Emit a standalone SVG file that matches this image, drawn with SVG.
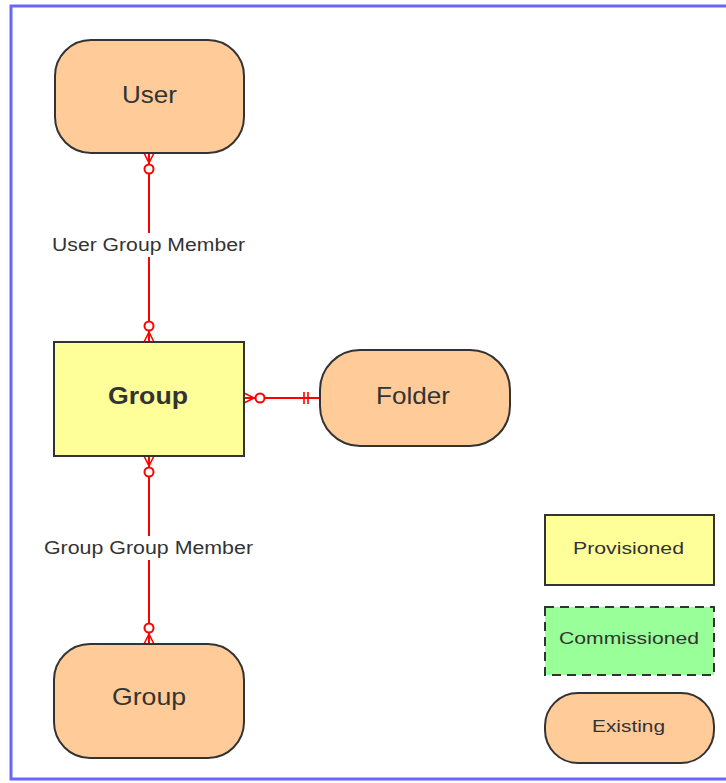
<svg xmlns="http://www.w3.org/2000/svg" width="726" height="783" viewBox="0 0 726 783">
<style>
.ex{fill:#FFCC99;stroke:#333;stroke-width:2}
.pr{fill:#FFFF99;stroke:#333;stroke-width:2}
.cm{fill:#99FF99;stroke:#333;stroke-width:2;stroke-dasharray:9 6}
.t{font-family:"Liberation Sans",Arial,sans-serif;fill:#333;text-anchor:middle}
.n{font-size:24px}
.l{font-size:18px}
.g{font-size:17px}
.e{stroke:#FF0000;stroke-width:2;fill:none}
</style>
<defs>
<marker id="zm" markerUnits="userSpaceOnUse" viewBox="-24 -8 26 16" refX="0" refY="0" markerWidth="26" markerHeight="16" orient="auto-start-reverse">
<path d="M-10,0 L0,-5 M-10,0 L0,0 M-10,0 L0,5" stroke="#FF0000" stroke-width="1.6" fill="none"/>
<circle cx="-16" cy="0" r="4.5" fill="#fff" stroke="#FF0000" stroke-width="2"/>
</marker>
<marker id="one" markerUnits="userSpaceOnUse" viewBox="-20 -8 22 16" refX="0" refY="0" markerWidth="22" markerHeight="16" orient="auto-start-reverse">
<path d="M-12,-6 L-12,6 M-16,-6 L-16,6" stroke="#FF0000" stroke-width="1.6" fill="none"/>
</marker>
</defs>
<rect x="11" y="6" width="730" height="773" fill="none" stroke="#6666FF" stroke-width="3"/>
<g id="connectors">
<path class="e" d="M149,153 L149,342" marker-start="url(#zm)" marker-end="url(#zm)"/>
<path class="e" d="M149,456 L149,644" marker-start="url(#zm)" marker-end="url(#zm)"/>
<path class="e" d="M244,398 L320,398" marker-start="url(#zm)" marker-end="url(#one)"/>
<rect x="48" y="233" width="202" height="24" fill="#fff"/>
<text class="t l" x="148.5" y="251" textLength="193" lengthAdjust="spacingAndGlyphs">User Group Member</text>
<rect x="40" y="536" width="218" height="24" fill="#fff"/>
<text class="t l" x="148.5" y="554" textLength="209" lengthAdjust="spacingAndGlyphs">Group Group Member</text>
</g>
<g id="user">
<rect class="ex" x="55" y="40" width="189" height="113" rx="36"/>
<text class="t n" x="149.5" y="103" textLength="55" lengthAdjust="spacingAndGlyphs">User</text>
</g>
<g id="group">
<rect class="pr" x="54" y="342" width="190" height="114"/>
<text class="t n" x="148" y="404" font-weight="bold" textLength="80" lengthAdjust="spacingAndGlyphs">Group</text>
</g>
<g id="folder">
<rect class="ex" x="320" y="350" width="190" height="96" rx="40"/>
<text class="t n" x="413" y="404" textLength="74" lengthAdjust="spacingAndGlyphs">Folder</text>
</g>
<g id="group2">
<rect class="ex" x="54" y="644" width="190" height="114" rx="36"/>
<text class="t n" x="149" y="705" textLength="74" lengthAdjust="spacingAndGlyphs">Group</text>
</g>
<g id="legend-provisioned">
<rect class="pr" x="545" y="515" width="169" height="70"/>
<text class="t g" x="628.5" y="554" textLength="111" lengthAdjust="spacingAndGlyphs">Provisioned</text>
</g>
<g id="legend-commissioned">
<rect class="cm" x="545" y="607" width="169" height="68"/>
<text class="t g" x="629" y="644" textLength="140" lengthAdjust="spacingAndGlyphs">Commissioned</text>
</g>
<g id="legend-existing">
<rect class="ex" x="545" y="693" width="169" height="70" rx="33"/>
<text class="t g" x="628.5" y="732" textLength="73" lengthAdjust="spacingAndGlyphs">Existing</text>
</g>
</svg>
